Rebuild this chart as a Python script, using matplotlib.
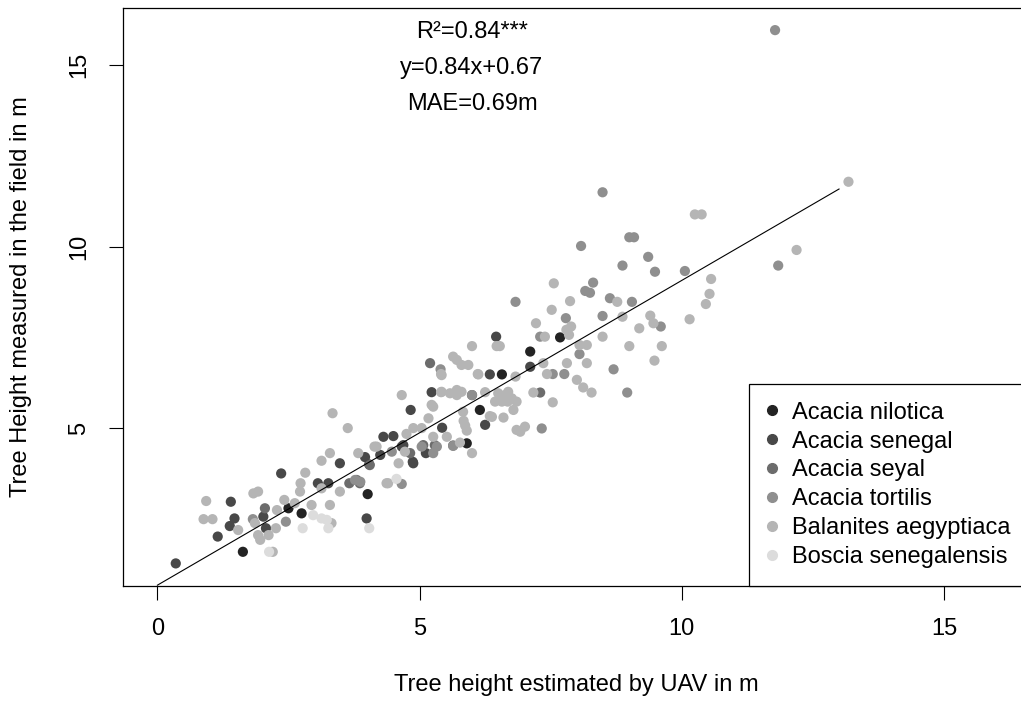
import matplotlib
matplotlib.use("Agg")
import matplotlib.pyplot as plt
from matplotlib.lines import Line2D

plt.rcParams['font.family'] = ['Liberation Sans', 'DejaVu Sans']

species = ["Acacia nilotica", "Acacia senegal", "Acacia seyal",
           "Acacia tortilis", "Balanites aegyptiaca", "Boscia senegalensis"]
colors = ["#232323", "#484848", "#6c6c6c", "#8f8f8f", "#b5b5b5", "#dcdcdc"]

nilotica_x = [1.63, 2.50, 2.75, 4.01, 6.15, 5.90, 6.57, 7.68, 7.11]
nilotica_y = [1.59, 2.79, 2.65, 3.18, 5.50, 4.58, 6.48, 7.50, 7.11]

senegal_x = [0.35, 1.15, 1.38, 1.40, 1.47, 2.02, 2.07, 2.36, 3.06, 3.26, 3.48, 3.96,
             3.99, 4.04, 4.31, 4.50, 4.25, 4.69, 4.87, 4.88, 5.12, 5.23, 4.83, 5.43,
             4.66, 6.25, 6.34, 6.46, 7.11]
senegal_y = [1.27, 2.01, 2.30, 2.97, 2.51, 2.56, 2.24, 3.75, 3.48, 3.48, 4.03, 4.20,
             2.51, 4.00, 4.76, 4.78, 4.26, 4.53, 4.07, 4.03, 4.31, 5.99, 5.50, 5.01,
             4.49, 5.09, 6.48, 7.52, 6.69]

seyal_x = [4.05, 3.66, 3.86, 2.05, 3.80, 5.07, 5.29, 4.82, 5.64, 6.00, 5.20, 7.30]
seyal_y = [3.98, 3.48, 3.48, 2.79, 3.57, 4.53, 4.53, 4.31, 4.52, 5.91, 6.79, 5.98]

tortilis_x = [11.78, 8.49, 8.08, 9.00, 9.09, 9.36, 8.87, 9.49, 10.06, 11.84, 8.31, 8.16,
              8.25, 6.83, 8.63, 9.05, 8.49, 7.79, 9.60, 7.30, 8.05, 8.70, 8.96, 7.54,
              7.76, 7.33, 5.40, 1.82, 2.45, 3.77, 3.87, 4.66, 4.47, 5.04, 5.26, 5.33,
              5.64, 6.00]
tortilis_y = [15.97, 11.50, 10.02, 10.26, 10.26, 9.72, 9.48, 9.31, 9.33, 9.48, 9.01, 8.78,
              8.73, 8.48, 8.58, 8.48, 8.09, 8.03, 7.80, 7.52, 7.04, 6.62, 5.98, 6.49,
              6.49, 4.99, 6.62, 2.49, 2.42, 3.57, 3.52, 3.46, 4.35, 4.49, 4.31, 4.49,
              4.51, 5.91]

balanites_x = [0.93, 0.88, 1.05, 1.54, 1.83, 1.92, 1.86, 1.92, 1.96, 2.12, 2.26, 2.28,
               2.42, 2.62, 2.72, 2.73, 2.82, 2.94, 3.13, 3.29, 3.32, 3.48, 3.34, 3.63,
               3.29, 3.13, 3.83, 4.14, 2.20,
               4.18, 4.37, 4.40, 4.60, 4.75, 4.88, 5.04, 5.17, 5.26, 5.42, 4.66, 5.42,
               4.72, 5.23, 5.26, 5.52, 5.77, 6.00, 5.58, 5.71, 5.64, 5.71, 5.80, 5.93,
               6.00, 6.47, 6.53, 6.12, 5.41, 6.11, 6.83, 7.43, 8.00, 8.12, 8.28, 5.41,
               5.71, 5.80, 6.25, 6.44, 6.57, 6.68, 6.79, 6.69, 7.17, 7.54, 5.83, 5.84,
               5.87, 5.90, 6.38, 6.60, 6.92, 7.01, 6.34, 6.85, 6.50, 6.63, 6.76, 6.85,
               7.56, 7.87, 7.52, 7.22, 7.89, 7.80, 7.85, 8.49, 8.05, 8.19, 7.81, 8.19,
               7.36, 10.25, 10.38, 10.56, 12.19, 8.77, 10.53, 10.46, 8.87, 9.40, 9.46,
               9.19, 10.15, 9.00, 9.62, 9.48, 13.18, 7.39]
balanites_y = [2.99, 2.49, 2.49, 2.19, 3.20, 3.25, 2.38, 2.05, 1.92, 2.05, 2.24, 2.74,
               3.02, 2.93, 3.25, 3.48, 3.77, 2.88, 3.34, 2.88, 2.38, 3.25, 5.41, 5.00,
               4.31, 4.10, 4.31, 4.49, 1.59,
               4.49, 3.48, 3.48, 4.03, 4.84, 5.00, 5.00, 5.27, 5.59, 6.00, 5.91, 6.46,
               4.35, 5.64, 4.76, 4.76, 4.60, 4.31, 5.96, 6.05, 6.97, 6.88, 6.74, 6.74,
               7.26, 7.26, 7.26, 6.48, 6.49, 6.49, 6.42, 6.49, 6.33, 6.12, 5.98, 5.99,
               5.91, 6.00, 5.99, 5.73, 5.73, 5.73, 5.50, 6.00, 5.98, 5.71, 5.45, 5.20,
               5.07, 4.93, 5.31, 5.29, 4.90, 5.04, 5.33, 4.95, 5.96, 5.91, 5.82, 5.73,
               8.99, 8.50, 8.26, 7.89, 7.80, 7.71, 7.57, 7.52, 7.29, 7.29, 6.79, 6.79,
               6.79, 10.89, 10.89, 9.11, 9.91, 8.48, 8.70, 8.42, 8.07, 8.10, 7.89,
               7.75, 8.00, 7.26, 7.26, 6.86, 11.79, 7.52]

boscia_x = [2.13, 2.97, 3.13, 3.23, 3.26, 4.04, 2.77, 4.56]
boscia_y = [1.59, 2.60, 2.51, 2.47, 2.24, 2.24, 2.24, 3.60]

fit_slope = 0.84
fit_intercept = 0.67
fit_x = [0.0, 13.0]

annotations = ["R²=0.84***", "y=0.84x+0.67", "MAE=0.69m"]
annot_x = 6.0
annot_y = [16.0, 15.0, 14.0]

x_ticks = [0, 5, 10, 15]
y_ticks = [5, 10, 15]

FS = 17

fig = plt.figure(figsize=(10.21, 7.01), dpi=100)
ax = fig.add_axes([0.1208, 0.1645, 0.8879, 0.8241])

series = [(nilotica_x, nilotica_y), (senegal_x, senegal_y), (seyal_x, seyal_y),
          (tortilis_x, tortilis_y), (balanites_x, balanites_y), (boscia_x, boscia_y)]
for (xs, ys), c in zip(series, colors):
    ax.scatter(xs, ys, s=54, color=c, edgecolors='none', zorder=2)

fit_y = [fit_slope * v + fit_intercept for v in fit_x]
ax.plot(fit_x, fit_y, color='black', lw=0.8, zorder=3)

for t, yy in zip(annotations, annot_y):
    ax.text(annot_x, yy, t, ha='center', va='center_baseline', fontsize=FS)

ax.set_xlim(-0.65, 16.64)
ax.set_ylim(0.656, 16.58)
ax.set_xticks(x_ticks)
ax.set_yticks(y_ticks)
ax.tick_params(direction='out', length=10, width=0.8, labelsize=FS)
ax.tick_params(axis='x', pad=13)
ax.tick_params(axis='y', pad=14)
for lab in ax.get_yticklabels():
    lab.set_rotation(90)
    lab.set_va('center')
for sp in ax.spines.values():
    sp.set_linewidth(0.9)

ax.set_xlabel("Tree height estimated by UAV in m", fontsize=FS, labelpad=25)
ax.set_ylabel("Tree Height measured in the field in m", fontsize=FS, labelpad=26)

handles = [Line2D([], [], ls='none', marker='o', ms=7, mfc=c, mec=c) for c in colors]
leg_left = (749 - 123.3) / (1029.9 - 123.3)
leg = ax.legend(handles, species, loc='lower left',
                bbox_to_anchor=(leg_left, 0, 1 - leg_left, 0), mode='expand',
                borderaxespad=0, frameon=True, fancybox=False, framealpha=1,
                edgecolor='black', fontsize=FS, handlelength=0.45,
                handletextpad=0.62, labelspacing=0.29, borderpad=0.75)
leg.get_frame().set_linewidth(0.9)

fig.savefig("out.png", dpi=100)
